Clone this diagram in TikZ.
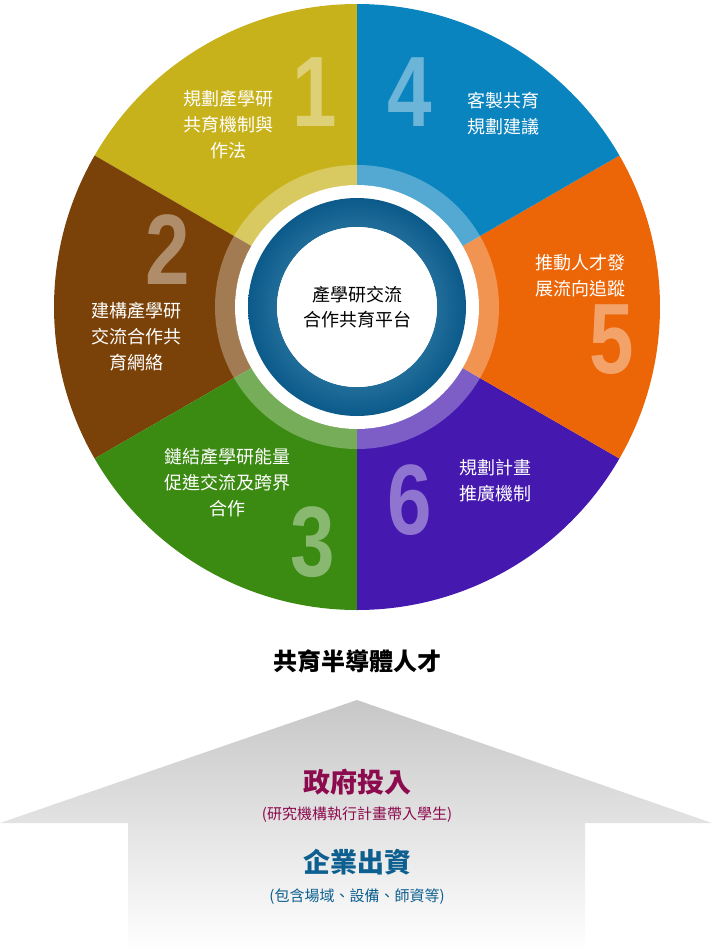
\documentclass[tikz,border=0pt]{standalone}
\usepackage{fontspec}
\setmainfont{Noto Sans CJK TC}
\newfontfamily\numfont{Liberation Sans}
\usetikzlibrary{shadings}
\definecolor{cY}{HTML}{C8B21C}
\definecolor{cB}{HTML}{0A84BE}
\definecolor{cO}{HTML}{EC6608}
\definecolor{cP}{HTML}{4519B0}
\definecolor{cG}{HTML}{3B8A12}
\definecolor{cBr}{HTML}{7A4208}
\definecolor{cRed}{HTML}{8C0A4E}
\definecolor{cBlue}{HTML}{0C5F8F}
\definecolor{ringA}{HTML}{0B5A8A}
\definecolor{ringB}{HTML}{5EA0C4}
\tikzset{
 lbl/.style={text=white,align=center,font=\fontsize{18}{26}\selectfont},
 num/.style={text=white,opacity=0.4,font=\numfont\bfseries\fontsize{100}{100}\selectfont,xscale=0.8},
}
\begin{document}
\begin{tikzpicture}[x=1pt,y=-1pt]
\useasboundingbox (0,0) rectangle (712,951);
\coordinate (c) at (357,307);
\foreach \a/\b/\col in {90/150/cY,150/210/cBr,210/270/cG,270/330/cP,-30/30/cO,30/90/cB}
  \fill[\col] (c) -- ([shift={(c)}]-\a:303) arc[start angle=-\a,end angle=-\b,radius=303] -- cycle;
\fill[white,opacity=0.3,even odd rule] (c) circle[radius=142] (c) circle[radius=122];
\fill[white] (c) circle[radius=122];
\shade[inner color=ringB,outer color=ringA,even odd rule] (c) circle[radius=109] (c) circle[radius=80];
\fill[white] (c) circle[radius=80];
\node[num] (n1) at (315,92) {1};
\node[num] (n4) at (410,92) {4};
\node[num] (n2) at (168,250) {2};
\node[num] (n5) at (612,340) {5};
\node[num] (n3) at (313,542) {3};
\node[num] (n6) at (410,500) {6};
\node[lbl] (t1) at (228,125) {規劃產學研\\共育機制與\\作法};
\node[lbl] (t4) at (503,114) {客製共育\\規劃建議};
\node[lbl] (t2) at (136,337) {建構產學研\\交流合作共\\育網絡};
\node[lbl] (t5) at (580,276) {推動人才發\\展流向追蹤};
\node[lbl] (t3) at (227,483) {鏈結產學研能量\\促進交流及跨界\\合作};
\node[lbl] (t6) at (495,481) {規劃計畫\\推廣機制};
\node[align=center,font=\fontsize{18}{25}\selectfont] (ctr) at (357,307) {產學研交流\\合作共育平台};
\node[font=\bfseries\fontsize{24}{28}\selectfont] (title) at (357,661) {共育半導體人才};
\shade[top color=black!22,bottom color=white] (357,700) -- (712,823) -- (585,823) -- (585,951) -- (128,951) -- (128,823) -- (0,823) -- cycle;
\node[text=cRed,font=\bfseries\fontsize{27}{30}\selectfont] (g) at (357,782) {政府投入};
\node[text=cRed,font=\fontsize{15}{18}\selectfont] (gs) at (357,815) {(研究機構執行計畫帶入學生)};
\node[text=cBlue,font=\bfseries\fontsize{27}{30}\selectfont] (e) at (357,862) {企業出資};
\node[text=cBlue,font=\fontsize{15}{18}\selectfont] (es) at (357,897) {(包含場域、設備、師資等)};
\end{tikzpicture}
\end{document}
